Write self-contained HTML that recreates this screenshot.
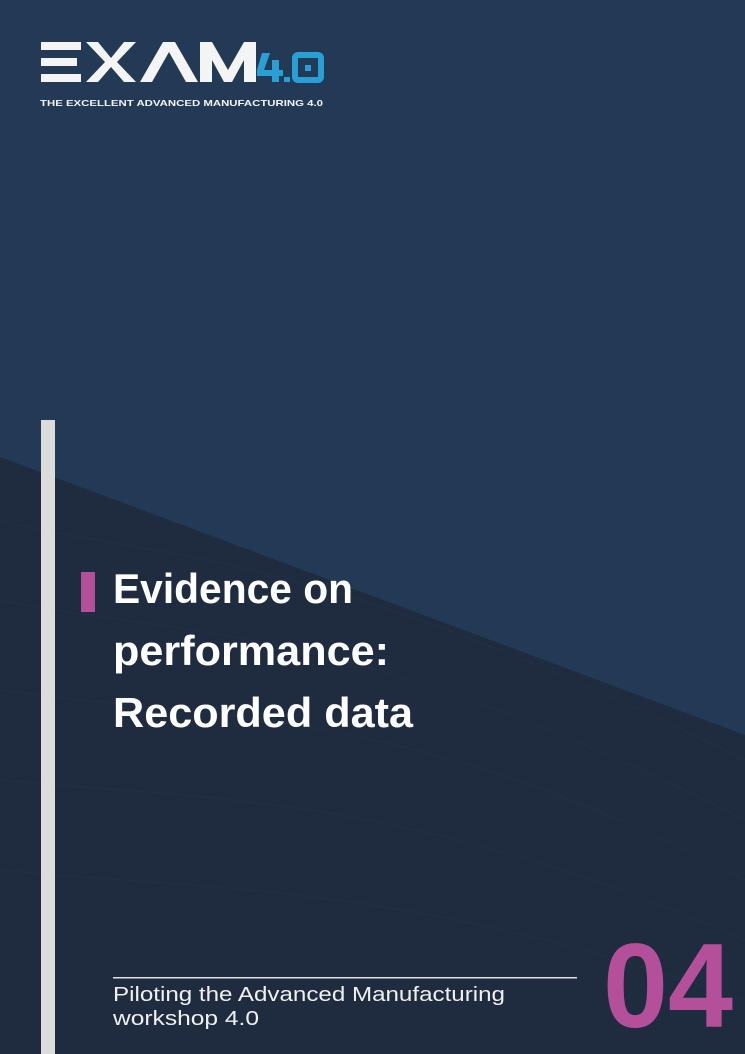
<!DOCTYPE html>
<html><head><meta charset="utf-8"><style>
*{margin:0;padding:0}
body{width:745px;height:1054px;overflow:hidden;background:#223a55;font-family:"Liberation Sans",sans-serif;position:relative}
.a{position:absolute}
</style></head><body>
<svg class="a" style="left:0;top:0" width="745" height="1054">
<polygon points="0,457 745,735 745,1054 0,1054" fill="#1f2b3e"/>
<g fill="none" stroke="#27364b" stroke-width="1" opacity="0.5">
<path d="M0,520 C150,560 300,540 745,760"/>
<path d="M0,600 C200,640 350,620 745,820"/>
<path d="M0,690 C200,720 400,700 745,880"/>
<path d="M0,780 C200,800 400,790 745,940"/>
<path d="M0,870 C200,890 400,880 745,1000"/>
</g>
<!-- logo -->
<g fill="#f4f4f4">
<rect x="41" y="42" width="40" height="8"/><rect x="41" y="58" width="36" height="8"/><rect x="41" y="74" width="40" height="8"/>
<polygon points="86,42 98,42 111,58 124,42 136,42 117,62 136,82 124,82 111,67 98,82 86,82 105,62"/>
<polygon points="140,82 163,42 175,42 198,82 186,82 169,52 152,82"/>
<polygon points="200,82 200,42 212,42 228,70 244,42 256,42 256,82 244,82 244,60 232,82 224,82 212,60 212,82"/>
</g>
<g fill="#2a9fd6">
<polygon points="270,53 262,53 257,70 257,76 272,76 272,82 279,82 279,76 283,76 283,70 279,70 279,60 272,60 272,70 264,70"/>
<rect x="284" y="77" width="6" height="5"/>
<rect x="295" y="55" width="26" height="25" rx="3" fill="none" stroke="#2a9fd6" stroke-width="6"/>
<rect x="305" y="65" width="6" height="6"/>
</g>
<text x="40" y="106" font-size="8.5" font-weight="bold" fill="#f4f4f4" textLength="283" lengthAdjust="spacingAndGlyphs">THE EXCELLENT ADVANCED MANUFACTURING 4.0</text>
<rect x="41" y="420" width="14" height="634" fill="#dcdcdc"/>
<rect x="81" y="572" width="14" height="40" fill="#b4509a"/>
<g fill="#fff" font-weight="bold" font-size="42">
<text x="113" y="603" textLength="240" lengthAdjust="spacingAndGlyphs">Evidence on</text>
<text x="113" y="665" textLength="276" lengthAdjust="spacingAndGlyphs">performance:</text>
<text x="113" y="727" textLength="300" lengthAdjust="spacingAndGlyphs">Recorded data</text>
</g>
<rect x="113" y="977" width="464" height="1.5" fill="#e0e0e0"/>
<g fill="#f0f0f0" font-size="20">
<text x="113" y="1001" textLength="392" lengthAdjust="spacingAndGlyphs">Piloting the Advanced Manufacturing</text>
<text x="113" y="1025" textLength="146" lengthAdjust="spacingAndGlyphs">workshop 4.0</text>
</g>
<text x="603" y="1027" font-size="120" font-weight="bold" fill="#b4509a" textLength="130" lengthAdjust="spacingAndGlyphs">04</text>
</svg>
</body></html>
